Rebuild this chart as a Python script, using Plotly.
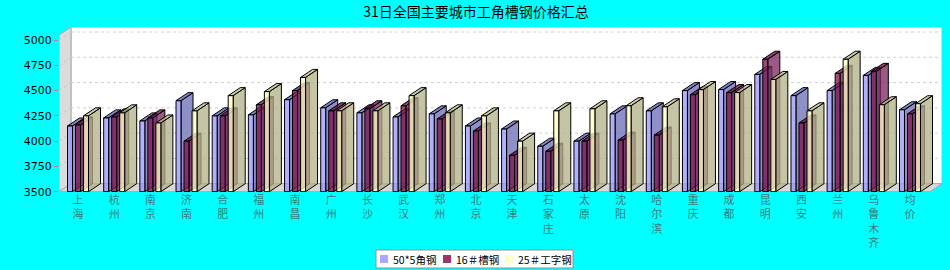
import plotly.graph_objects as go

# ---------------- data ----------------
categories = ["上海", "杭州", "南京", "济南", "合肥", "福州", "南昌", "广州", "长沙", "武汉",
              "郑州", "北京", "天津", "石家庄", "太原", "沈阳", "哈尔滨", "重庆", "成都", "昆明",
              "西安", "兰州", "乌鲁木齐", "均价"]
angle_steel = [4150, 4230, 4200, 4400, 4250, 4260, 4410, 4330, 4280, 4240, 4270, 4150,
               4120, 3950, 4000, 4270, 4300, 4500, 4510, 4660, 4450, 4500, 4650, 4310]
channel_steel = [4160, 4240, 4230, 4000, 4250, 4360, 4500, 4300, 4320, 4350, 4220, 4100,
                 3860, 3900, 4000, 4010, 4060, 4460, 4480, 4810, 4180, 4670, 4690, 4270]
ibeam_steel = [4250, 4280, 4180, 4300, 4450, 4490, 4630, 4300, 4300, 4450, 4280, 4250,
               4000, 4300, 4320, 4350, 4340, 4510, 4480, 4610, 4300, 4810, 4360, 4370]
series_names = ["50*5角钢", "16＃槽钢", "25＃工字钢"]
y_ticks = [3500, 3750, 4000, 4250, 4500, 4750, 5000]
title_text = "31日全国主要城市工角槽钢价格汇总"

# ---------------- geometry / style ----------------
W, H = 950, 270
ML, MR, MT, MB = 59, 8, 27, 78
PW, PH = W - ML - MR, H - MT - MB
P = 36.16          # px per category
KY = 0.10113       # px per value unit
DX = 12 / P        # depth offset in x units
DY = 8 / KY        # depth offset in y units
BASE = 3500
X0 = -19 / P
XF = 23 + 20 / P
XR = XF + DX
Y0 = BASE - 0.3 / KY
YT = Y0 + PH / KY
BAR_W = 5 / P
BAR_LEFT = [-10.5 / P, -2.5 / P, 5.5 / P]

A = 0.75
styles = [
    dict(front=f"rgba(150,150,255,{A})", side=f"rgba(107,107,182,{A})", top=f"rgba(90,90,175,{A})",
         swatch="#A8A8FF"),
    dict(front=f"rgba(125,15,75,{A})", side=f"rgba(120,35,90,{A})", top=f"rgba(100,10,60,{A})",
         swatch="#A03464"),
    dict(front=f"rgba(255,255,195,{A})", side=f"rgba(178,178,135,{A})", top=f"rgba(185,185,140,{A})",
         swatch="#FFFFCC"),
]

fig = go.Figure()

all_series = [angle_steel, channel_steel, ibeam_steel]
for s, vals in enumerate(all_series):
    fx, fy, sx, sy, tx, ty = [], [], [], [], [], []
    for i, v in enumerate(vals):
        xl = i + BAR_LEFT[s]
        xr = xl + BAR_W
        fx += [xl, xr, xr, xl, xl, None]
        fy += [BASE, BASE, v, v, BASE, None]
        sx += [xr, xr + DX, xr + DX, xr, xr, None]
        sy += [BASE, BASE + DY, v + DY, v, BASE, None]
        tx += [xl, xl + DX, xr + DX, xr, xl, None]
        ty += [v, v + DY, v + DY, v, v, None]
    st = styles[s]
    fig.add_trace(go.Scatter(x=sx, y=sy, mode="lines", fill="toself", fillcolor=st["side"],
                             line=dict(color="black", width=1), hoverinfo="skip",
                             showlegend=False))
    fig.add_trace(go.Scatter(x=tx, y=ty, mode="lines", fill="toself", fillcolor=st["top"],
                             line=dict(color="black", width=1), hoverinfo="skip",
                             showlegend=False))
    fig.add_trace(go.Scatter(x=fx, y=fy, mode="lines", fill="toself", fillcolor=st["front"],
                             line=dict(color="black", width=1), hoverinfo="skip",
                             name=series_names[s], showlegend=False))

shapes = []
# back wall
shapes.append(dict(type="rect", xref="x", yref="y", x0=X0 + DX, x1=XR, y0=BASE + DY, y1=YT,
                   fillcolor="white", line=dict(color="#b8b8b8", width=1), layer="below"))
# left wall
shapes.append(dict(type="path", xref="x", yref="y",
                   path=f"M {X0},{BASE} L {X0 + DX},{BASE + DY} L {X0 + DX},{YT} L {X0},{YT - DY} Z",
                   fillcolor="#dcdcdc", line=dict(color="#a8a8a8", width=1), layer="below"))
# floor
shapes.append(dict(type="path", xref="x", yref="y",
                   path=f"M {X0},{BASE} L {XF},{BASE} L {XR},{BASE + DY} L {X0 + DX},{BASE + DY} Z",
                   fillcolor="#d8d8d8", line=dict(color="#a8a8a8", width=1), layer="below"))
# gridlines
for v in y_ticks[1:]:
    shapes.append(dict(type="line", xref="x", yref="y", x0=X0 + DX, x1=XR, y0=v + DY, y1=v + DY,
                       line=dict(color="#d0d0d0", width=1, dash="3px,3px"), layer="below"))
    shapes.append(dict(type="line", xref="x", yref="y", x0=X0, x1=X0 + DX, y0=v, y1=v + DY,
                       line=dict(color="#c4c4c4", width=1, dash="3px,3px"), layer="below"))

# manual legend (pixel layout converted to paper coords)
def px_x(p):
    return (p - ML) / PW

def px_y(p):
    return (H - MB - p) / PH

annotations = []
LEG_L, LEG_R, LEG_T, LEG_B = 376, 573, 250, 268
shapes.append(dict(type="rect", xref="paper", yref="paper", x0=px_x(LEG_L), x1=px_x(LEG_R),
                   y0=px_y(LEG_B), y1=px_y(LEG_T), fillcolor="white",
                   line=dict(color="#909090", width=1), layer="above"))
swatch_x = [380, 443, 505]
for s, name in enumerate(series_names):
    sx0 = swatch_x[s]
    shapes.append(dict(type="rect", xref="paper", yref="paper", x0=px_x(sx0), x1=px_x(sx0 + 8),
                       y0=px_y(263), y1=px_y(255), fillcolor=styles[s]["swatch"],
                       line=dict(width=0), layer="above"))
    annotations.append(dict(text=name, xref="paper", yref="paper", x=px_x(sx0 + 11), y=px_y(259),
                            xanchor="left", yanchor="middle", showarrow=False,
                            font=dict(family="Noto Sans CJK SC", size=10.5, color="black")))

fig.update_layout(
    width=W, height=H,
    margin=dict(l=ML, r=MR, t=MT, b=MB, autoexpand=False),
    paper_bgcolor="#00FFFF", plot_bgcolor="#00FFFF",
    shapes=shapes,
    annotations=annotations,
    title=dict(text=title_text, x=476 / W, y=1 - 12 / H, xanchor="center", yanchor="middle",
               font=dict(family="Noto Sans CJK SC", size=14, color="black")),
    xaxis=dict(range=[X0, XR], tickvals=list(range(len(categories))),
               ticktext=["<br>".join(list(c)) for c in categories],
               showgrid=False, zeroline=False, showline=False, ticks="",
               tickfont=dict(family="Noto Sans CJK SC", size=11, color="#3c7c7c"),
               fixedrange=True, automargin=False),
    yaxis=dict(range=[Y0, YT], tickvals=y_ticks, ticktext=[str(t) for t in y_ticks],
               showgrid=False, zeroline=False, showline=False,
               ticks="outside", ticklen=4, tickcolor="#c08080",
               tickfont=dict(family="DejaVu Sans", size=11, color="black"),
               fixedrange=True, automargin=False),
    showlegend=False,
)

fig.write_html("out.html")
